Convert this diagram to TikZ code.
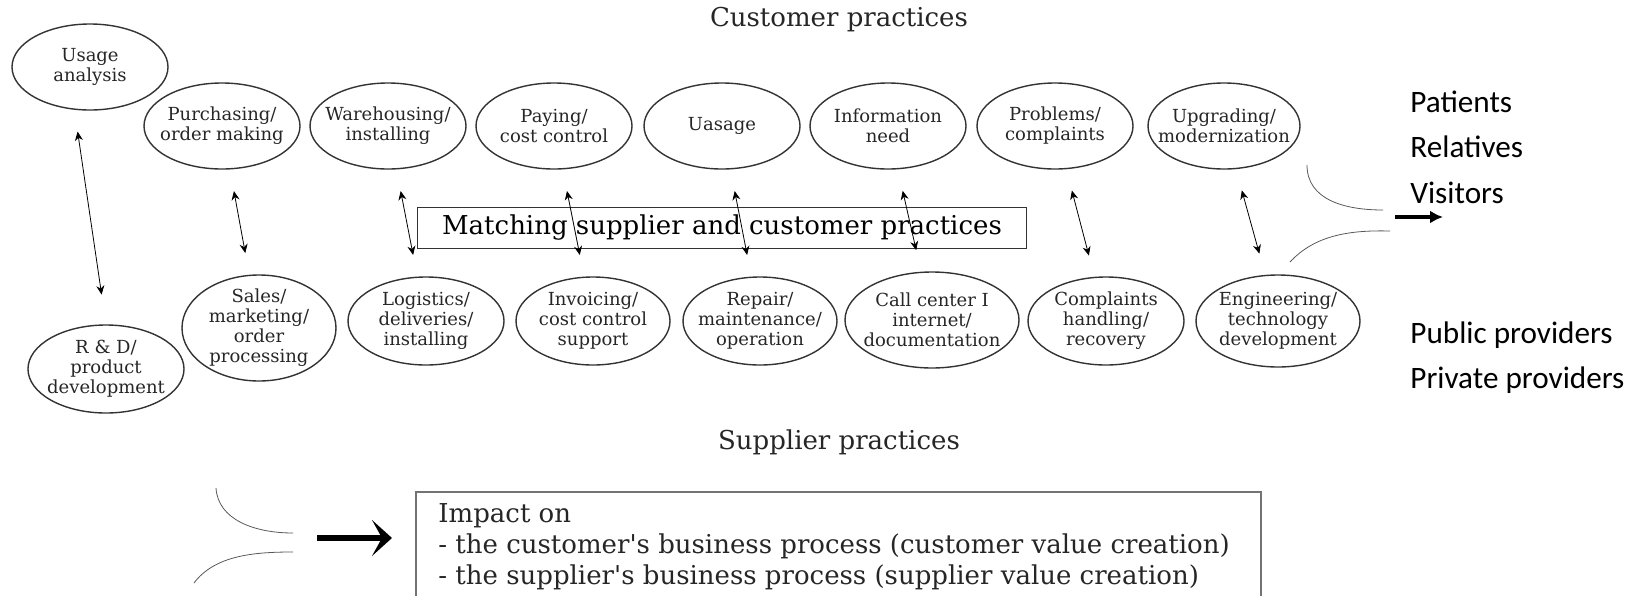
\documentclass[tikz,border=0pt]{standalone}
\usepackage{fontspec}
\setmainfont{DejaVu Serif}
\newfontfamily\calibrifont{Carlito}
\usepackage{tikz}
\usetikzlibrary{shapes,arrows.meta,positioning,calc}
\tikzset{
	>={Stealth[length=4.5pt,width=4pt]}, % small filled heads on the matching links
	practice/.style={ellipse, draw=black!80, line width=0.7pt, inner sep=-8pt, minimum width=78pt, minimum height=43pt, align=center, text=black!85, font=\fontsize{9}{10}\selectfont}, % one practice in an ellipse
	title/.style={font=\fontsize{13}{15}\selectfont, text=black!85}, % row headings
	matchbox/.style={draw=black!80, semithick, minimum width=304.5pt, minimum height=20.5pt, font=\fontsize{13}{15}\selectfont}, % box in the middle
	link/.style={<->, shorten <=11pt, shorten >=11pt}, % customer practice <-> supplier practice
	brace/.style={draw=black!65, thin}, % converging curves
	actor/.style={anchor=base west, inner sep=0pt, font=\calibrifont\fontsize{15.6}{18}\selectfont}, % who is involved
}

\begin{document}
\begin{tikzpicture}[x=0.5pt, y=-0.5pt]
	\useasboundingbox (0,0) rectangle (1645,595);

	% customer practices
	\node[title] (CUSTOMER_PRACTICES) at (839,20) {Customer practices};
	\node[practice] (USAGE_ANALYSIS) at (90,67) {Usage\\analysis};
	\node[practice] (PURCHASING) at (222,126) {Purchasing/\\order making};
	\node[practice] (WAREHOUSING) at (388,126) {Warehousing/\\installing};
	\node[practice] (PAYING) at (554,126) {Paying/\\cost control};
	\node[practice] (UASAGE) at (722,126) {Uasage};
	\node[practice] (INFORMATION) at (888,126) {Information\\need};
	\node[practice] (PROBLEMS) at (1055,126) {Problems/\\complaints};
	\node[practice, minimum width=76pt] (UPGRADING) at (1224,126) {Upgrading/\\modernization};

	\node[matchbox] (MATCHING) at (722,228) {Matching supplier and customer practices};

	% supplier practices
	\node[practice, minimum height=44pt] (RND) at (106,369) {R \& D/\\product\\development};
	\node[practice, minimum width=77pt, minimum height=53pt] (SALES) at (259,328) {Sales/\\marketing/\\order\\processing};
	\node[practice, minimum height=44pt] (LOGISTICS) at (426,321) {Logistics/\\deliveries/\\installing};
	\node[practice, minimum width=77pt, minimum height=44pt] (INVOICING) at (593,321) {Invoicing/\\cost control\\support};
	\node[practice, minimum width=77pt, minimum height=44pt] (REPAIR) at (760,321) {Repair/\\maintenance/\\operation};
	\node[practice, minimum width=87pt, minimum height=48pt] (CALL_CENTER) at (932,320) {Call center I\\internet/\\documentation};
	\node[practice, minimum height=44pt] (COMPLAINTS) at (1106,321) {Complaints\\handling/\\recovery};
	\node[practice, minimum width=82pt, minimum height=46pt] (ENGINEERING) at (1278,321) {Engineering/\\technology\\development};
	\node[title] (SUPPLIER_PRACTICES) at (839,442) {Supplier practices};

	\draw[link, shorten >=15pt] (USAGE_ANALYSIS.250) -- (RND.north);
	\draw[link] (PURCHASING) -- (SALES);
	\draw[link] (WAREHOUSING) -- (LOGISTICS);
	\draw[link] (PAYING) -- (INVOICING);
	\draw[link] (UASAGE) -- (REPAIR);
	\draw[link] (INFORMATION) -- (CALL_CENTER);
	\draw[link] (PROBLEMS) -- (COMPLAINTS);
	\draw[link] (UPGRADING) -- (ENGINEERING);

	% actors on the right
	\node[actor] (PATIENTS) at (1410,112) {Patients};
	\node[actor] (RELATIVES) at (1410,157) {Relatives};
	\node[actor] (VISITORS) at (1410,203) {Visitors};
	\node[actor] (PUBLIC) at (1410,343) {Public providers};
	\node[actor] (PRIVATE) at (1410,388) {Private providers};

	\draw[brace] (1307,165) .. controls (1307,200) and (1345,210) .. (1383,210);
	\draw[brace] (1290,262) .. controls (1315,235) and (1350,230) .. (1390,231);
	\coordinate (JOIN_RIGHT) at (1395,217);
	\coordinate (TARGET_RIGHT) at (1443,217);
	\draw[line width=1.6pt, -{Latex[length=6.5pt,width=6.5pt]}] (JOIN_RIGHT) -- (TARGET_RIGHT);

	% impact
	\draw[draw=black!55, semithick] (416,600) |- (1261,492) -- (1261,600);
	\node[anchor=north west, inner sep=0pt, align=left, text=black!85, font=\fontsize{13}{15.5}\selectfont] (IMPACT) at (438,503)
		{Impact on\\- the customer\textquotesingle s business process (customer value creation)\\- the supplier\textquotesingle s business process (supplier value creation)};

	\draw[brace] (216,488) .. controls (218,520) and (255,533) .. (293,533);
	\draw[brace] (194,583) .. controls (215,555) and (255,552) .. (293,552);
	\coordinate (JOIN_LEFT) at (317,538);
	\coordinate (TARGET_LEFT) at (392,538);
	\draw[line width=3pt, -{Stealth[length=10pt,width=18pt,inset=5pt]}] (JOIN_LEFT) -- (TARGET_LEFT);
\end{tikzpicture}
\end{document}
